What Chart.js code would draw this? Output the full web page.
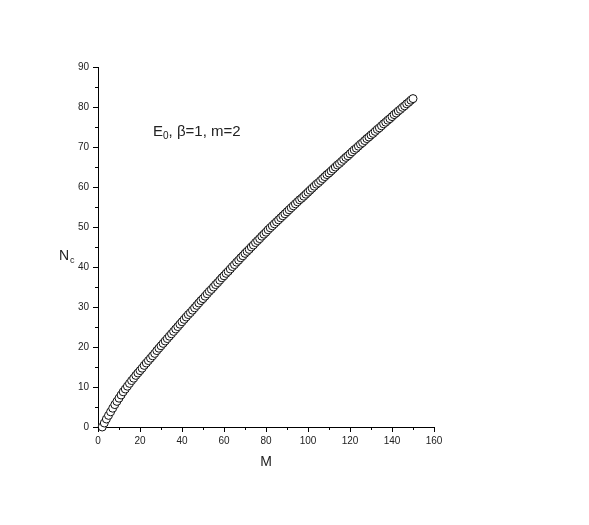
<!DOCTYPE html>
<html>
<head>
<meta charset="utf-8">
<script src="https://cdn.jsdelivr.net/npm/chart.js@4.4.0/dist/chart.umd.min.js"></script>
<style>
  html, body { margin: 0; padding: 0; background: #fff; }
  #wrap { width: 589px; height: 525px; }
</style>
</head>
<body>
<div id="wrap"><canvas id="canvas" width="589" height="525"></canvas></div>
<script>
// data, one point per unit of M
var M = [
  2, 3, 4, 5, 6, 7, 8, 9, 10, 11,
  12, 13, 14, 15, 16, 17, 18, 19, 20, 21,
  22, 23, 24, 25, 26, 27, 28, 29, 30, 31,
  32, 33, 34, 35, 36, 37, 38, 39, 40, 41,
  42, 43, 44, 45, 46, 47, 48, 49, 50, 51,
  52, 53, 54, 55, 56, 57, 58, 59, 60, 61,
  62, 63, 64, 65, 66, 67, 68, 69, 70, 71,
  72, 73, 74, 75, 76, 77, 78, 79, 80, 81,
  82, 83, 84, 85, 86, 87, 88, 89, 90, 91,
  92, 93, 94, 95, 96, 97, 98, 99, 100, 101,
  102, 103, 104, 105, 106, 107, 108, 109, 110, 111,
  112, 113, 114, 115, 116, 117, 118, 119, 120, 121,
  122, 123, 124, 125, 126, 127, 128, 129, 130, 131,
  132, 133, 134, 135, 136, 137, 138, 139, 140, 141,
  142, 143, 144, 145, 146, 147, 148, 149, 150
];
var Nc = [
  0.0, 1.0, 2.0, 2.9, 3.8, 4.7, 5.6, 6.4, 7.2, 8.0,
  8.8, 9.5, 10.2, 10.9, 11.6, 12.2, 12.9, 13.5, 14.1, 14.7,
  15.4, 16.0, 16.6, 17.2, 17.8, 18.4, 19.1, 19.7, 20.3, 20.9,
  21.5, 22.1, 22.7, 23.3, 23.9, 24.5, 25.1, 25.7, 26.3, 26.9,
  27.5, 28.1, 28.6, 29.2, 29.8, 30.4, 31.0, 31.6, 32.1, 32.7,
  33.3, 33.9, 34.4, 35.0, 35.6, 36.1, 36.7, 37.3, 37.8, 38.4,
  38.9, 39.5, 40.1, 40.6, 41.2, 41.7, 42.3, 42.8, 43.4, 43.9,
  44.4, 45.0, 45.5, 46.1, 46.6, 47.1, 47.7, 48.2, 48.7, 49.3,
  49.8, 50.3, 50.8, 51.3, 51.8, 52.3, 52.8, 53.3, 53.8, 54.3,
  54.8, 55.3, 55.8, 56.3, 56.8, 57.2, 57.7, 58.2, 58.7, 59.2,
  59.7, 60.2, 60.7, 61.1, 61.6, 62.1, 62.6, 63.1, 63.5, 64.0,
  64.5, 65.0, 65.5, 65.9, 66.4, 66.9, 67.4, 67.8, 68.3, 68.8,
  69.3, 69.7, 70.2, 70.7, 71.1, 71.6, 72.1, 72.5, 73.0, 73.4,
  73.9, 74.4, 74.8, 75.3, 75.8, 76.2, 76.7, 77.1, 77.6, 78.1,
  78.5, 79.0, 79.4, 79.9, 80.3, 80.8, 81.2, 81.7, 82.1
];
var xTicks = [0, 20, 40, 60, 80, 100, 120, 140, 160];
var yTicks = [0, 10, 20, 30, 40, 50, 60, 70, 80, 90];
var xLabel = 'M';
var yLabel = ['N', 'c'];
var note = ['E', '0', ', \u03b2=1, m=2'];

var pts = [];
for (var i = 0; i < M.length; i++) pts.push({x: M[i], y: Nc[i]});

var FONT = '"Liberation Sans", Arial, Helvetica, sans-serif';

// outward tick marks, long on labelled values, short in between
var tickPlugin = {
  id: 'tickMarks',
  afterDraw: function(chart) {
    var ctx = chart.ctx, xs = chart.scales.x, ys = chart.scales.y;
    var a = chart.chartArea;
    ctx.save();
    ctx.strokeStyle = '#000';
    ctx.lineWidth = 1;
    ctx.beginPath();
    for (var v = 0; v <= 160; v += 10) {
      var px = Math.round(xs.getPixelForValue(v)) + 0.5;
      var len = (v % 20 === 0) ? 5 : 3;
      ctx.moveTo(px, a.bottom);
      ctx.lineTo(px, a.bottom + len);
    }
    for (var v = 0; v <= 90; v += 5) {
      var py = Math.round(ys.getPixelForValue(v)) + 0.5;
      var len = (v % 10 === 0) ? 5 : 3;
      ctx.moveTo(a.left, py);
      ctx.lineTo(a.left - len, py);
    }
    ctx.stroke();

    // y title with subscript
    ctx.fillStyle = '#222';
    ctx.textBaseline = 'alphabetic';
    ctx.font = '14px ' + FONT;
    ctx.fillText(yLabel[0], 59, 260);
    ctx.font = '9px ' + FONT;
    ctx.fillText(yLabel[1], 70, 263);

    // note inside the plot
    var x0 = 153, y0 = 136;
    ctx.font = '15px ' + FONT;
    ctx.fillText(note[0], x0, y0);
    x0 += ctx.measureText(note[0]).width;
    ctx.font = '10px ' + FONT;
    ctx.fillText(note[1], x0, y0 + 3);
    x0 += ctx.measureText(note[1]).width;
    ctx.font = '15px ' + FONT;
    ctx.fillText(note[2], x0, y0);
    ctx.restore();
  }
};

var ctx = document.getElementById('canvas').getContext('2d');
window.myChart = new Chart(ctx, {
  type: 'scatter',
  data: {
    datasets: [{
      label: 'Nc',
      data: pts,
      pointStyle: 'circle',
      pointRadius: 4,
      pointBorderWidth: 1,
      pointBorderColor: '#111',
      pointBackgroundColor: '#fff',
      showLine: false,
      clip: false
    }]
  },
  options: {
    responsive: false,
    animation: false,
    devicePixelRatio: 1,
    layout: { padding: { left: 48, top: 67, right: 155, bottom: 50 } },
    plugins: {
      legend: { display: false },
      tooltip: { enabled: false }
    },
    scales: {
      x: {
        type: 'linear',
        min: 0, max: 160,
        afterBuildTicks: function(s) { s.ticks = xTicks.map(function(v) { return {value: v}; }); },
        afterFit: function(s) { s.height = 48; },
        grid: { display: false, drawTicks: false },
        border: { display: true, color: '#000', width: 1 },
        ticks: { padding: 8, color: '#222', font: { family: FONT, size: 10 }, maxRotation: 0 },
        title: { display: true, text: xLabel, color: '#222', font: { family: FONT, size: 14 }, padding: { top: 8 } }
      },
      y: {
        type: 'linear',
        min: 0, max: 90,
        afterBuildTicks: function(s) { s.ticks = yTicks.map(function(v) { return {value: v}; }); },
        afterFit: function(s) { s.width = 50; },
        grid: { display: false, drawTicks: false },
        border: { display: true, color: '#000', width: 1 },
        ticks: { padding: 9, color: '#222', font: { family: FONT, size: 10 } }
      }
    }
  },
  plugins: [tickPlugin]
});
</script>
</body>
</html>
